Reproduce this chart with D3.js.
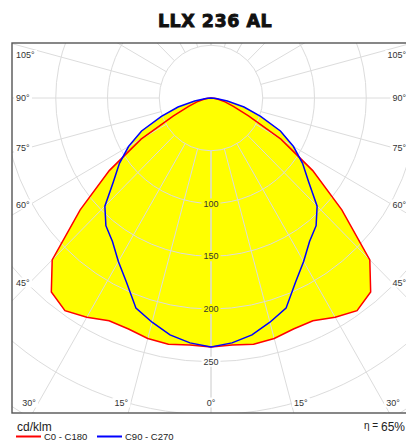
<!DOCTYPE html>
<html>
<head>
<meta charset="utf-8">
<script src="https://cdn.jsdelivr.net/npm/d3@7"></script>
<style>
  body { margin: 0; background: #fff; }
  text { font-family: "Liberation Sans", Arial, sans-serif; }
</style>
</head>
<body>
<div id="chart"></div>
<script>
// Polar angles (gamma, degrees from nadir) and intensities in cd/klm
const gammaAngles = [0, 5, 10, 15, 20, 25, 30, 35, 40, 45, 50, 55, 60, 65, 70, 75, 80, 85, 90];
const c0c180  = [236, 235, 237, 236, 233, 233, 240, 246, 240, 217, 165, 120, 78, 40, 23, 14, 7, 3, 0];
const c90c270 = [236, 233, 228, 220, 212, 193, 179, 166, 158, 145, 123, 108, 92, 74, 51, 33, 16, 5, 0];

const ringValues = [50, 100, 150, 200, 250, 300, 350];
const ringLabels = [100, 150, 200, 250];
const angleLabels = [105, 90, 75, 60, 45, 30, 15, 0];
const spokeAngles = d3.range(0, 181, 15);

const width = 406, height = 440;
const frame = { x: 12, y: 43, w: 398, h: 370 };
const cx = 211, cy = 98;

const svg = d3.select("#chart").append("svg")
    .attr("width", width)
    .attr("height", height);

// Radius scales (picture is slightly stretched vertically)
const rx = d3.scaleLinear().domain([0, 350]).range([0, 350 * 1.035]);
const ry = d3.scaleLinear().domain([0, 350]).range([0, 350 * 1.055]);

const rad = d => d * Math.PI / 180;
const pt = (g, r, side) => [cx + side * rx(r) * Math.sin(rad(g)), cy + ry(r) * Math.cos(rad(g))];

// Title
svg.append("text")
    .attr("x", 215)
    .attr("y", 27)
    .attr("text-anchor", "middle")
    .style("font-family", "'DejaVu Sans', sans-serif")
    .style("font-weight", "bold")
    .style("font-size", "17.5px")
    .style("letter-spacing", "0.5px")
    .attr("fill", "#111")
    .attr("stroke", "#111")
    .attr("stroke-width", 0.9)
    .text("LLX 236 AL");

svg.append("clipPath").attr("id", "clip")
    .append("rect")
    .attr("x", frame.x).attr("y", frame.y)
    .attr("width", frame.w).attr("height", frame.h);

const plot = svg.append("g").attr("clip-path", "url(#clip)");

// Build closed curves, left half (side -1) then right half
function curvePoints(values) {
    const pts = [];
    for (let i = gammaAngles.length - 1; i >= 0; i--) pts.push(pt(gammaAngles[i], values[i], -1));
    for (let i = 1; i < gammaAngles.length; i++) pts.push(pt(gammaAngles[i], values[i], 1));
    return pts;
}
const line = d3.line().x(d => d[0]).y(d => d[1]);

// Yellow fill
[c0c180, c90c270].forEach(v => {
    plot.append("path")
        .attr("d", line(curvePoints(v)) + "Z")
        .attr("fill", "#ffff00")
        .attr("stroke", "none");
});

// Grid rings
plot.selectAll("ellipse.ring")
    .data(ringValues)
    .enter()
    .append("ellipse")
    .attr("cx", cx).attr("cy", cy)
    .attr("rx", d => rx(d))
    .attr("ry", d => ry(d))
    .attr("fill", "none")
    .attr("stroke", "#dcdcdc")
    .attr("stroke-width", 1);

// Spokes every 15 degrees, starting at the 50 ring
spokeAngles.forEach(a => {
    [-1, 1].forEach(s => {
        const p0 = pt(a, 50, s), p1 = pt(a, 500, s);
        plot.append("line")
            .attr("x1", p0[0]).attr("y1", p0[1])
            .attr("x2", p1[0]).attr("y2", p1[1])
            .attr("stroke", "#dcdcdc")
            .attr("stroke-width", 1);
    });
});

// Curves
plot.append("path")
    .attr("d", line(curvePoints(c0c180)) + "Z")
    .attr("fill", "none")
    .attr("stroke", "#ff0000")
    .attr("stroke-width", 1.5);
plot.append("path")
    .attr("d", line(curvePoints(c90c270)) + "Z")
    .attr("fill", "none")
    .attr("stroke", "#0000ff")
    .attr("stroke-width", 1.5);

// Text with a background box
function boxedText(x, y, txt, anchor, bg) {
    const g = svg.append("g");
    const t = g.append("text")
        .attr("x", x)
        .attr("y", y + 3.2)
        .attr("text-anchor", anchor)
        .style("font-size", "9px")
        .attr("fill", "#333")
        .text(txt);
    const b = t.node().getBBox();
    g.insert("rect", "text")
        .attr("x", b.x - 2).attr("y", y - 5)
        .attr("width", b.width + 4).attr("height", 10)
        .attr("fill", bg);
}

// Ring value labels along the 0 degree spoke
ringLabels.forEach(v => {
    boxedText(cx, cy + ry(v), v, "middle", v < c0c180[0] ? "#ffff00" : "#fff");
});

// Angle labels round the frame
const ratio = ry(1) / rx(1);
angleLabels.forEach(a => {
    [-1, 1].forEach(s => {
        if (a >= 45) {
            const yy = Math.max(55, cy + (cx - 30) * ratio * Math.cos(rad(a)) / Math.sin(rad(a)));
            boxedText(s < 0 ? 16 : 406, yy, a + "°", s < 0 ? "start" : "end", "#fff");
        } else if (a === 0) {
            if (s < 0) boxedText(cx, 402.5, "0°", "middle", "#fff");
        } else {
            const xx = cx + s * (402 - cy) / ratio * Math.tan(rad(a));
            boxedText(xx + s * 3, 402.5, a + "°", s < 0 ? "end" : "start", "#fff");
        }
    });
});

// Frame
svg.append("rect")
    .attr("x", frame.x).attr("y", frame.y)
    .attr("width", frame.w).attr("height", frame.h)
    .attr("fill", "none")
    .attr("stroke", "#555")
    .attr("stroke-width", 1.4);

// Footer
svg.append("text")
    .attr("x", 17).attr("y", 431)
    .style("font-size", "12px")
    .attr("fill", "#222")
    .text("cd/klm");

const eta = svg.append("text")
    .attr("x", 405).attr("y", 431)
    .attr("text-anchor", "end")
    .style("font-size", "12px")
    .attr("fill", "#222");
eta.append("tspan").style("font-size", "10px").attr("dy", -2).text("η");
eta.append("tspan").style("font-size", "10px").text(" = ");
eta.append("tspan").attr("dy", 2).text("65%");

// Legend
const legendItems = [
    { name: "C0 - C180", color: "#ff0000", x: 16 },
    { name: "C90 - C270", color: "#0000ff", x: 97 }
];
const legend = svg.selectAll(".legend")
    .data(legendItems)
    .enter()
    .append("g")
    .attr("transform", d => `translate(${d.x},436.5)`);

legend.append("line")
    .attr("x1", 0).attr("x2", 25)
    .attr("stroke", d => d.color)
    .attr("stroke-width", 2);

legend.append("text")
    .attr("x", 28)
    .attr("y", 3.5)
    .style("font-size", "9.5px")
    .attr("fill", "#222")
    .text(d => d.name);
</script>
</body>
</html>
